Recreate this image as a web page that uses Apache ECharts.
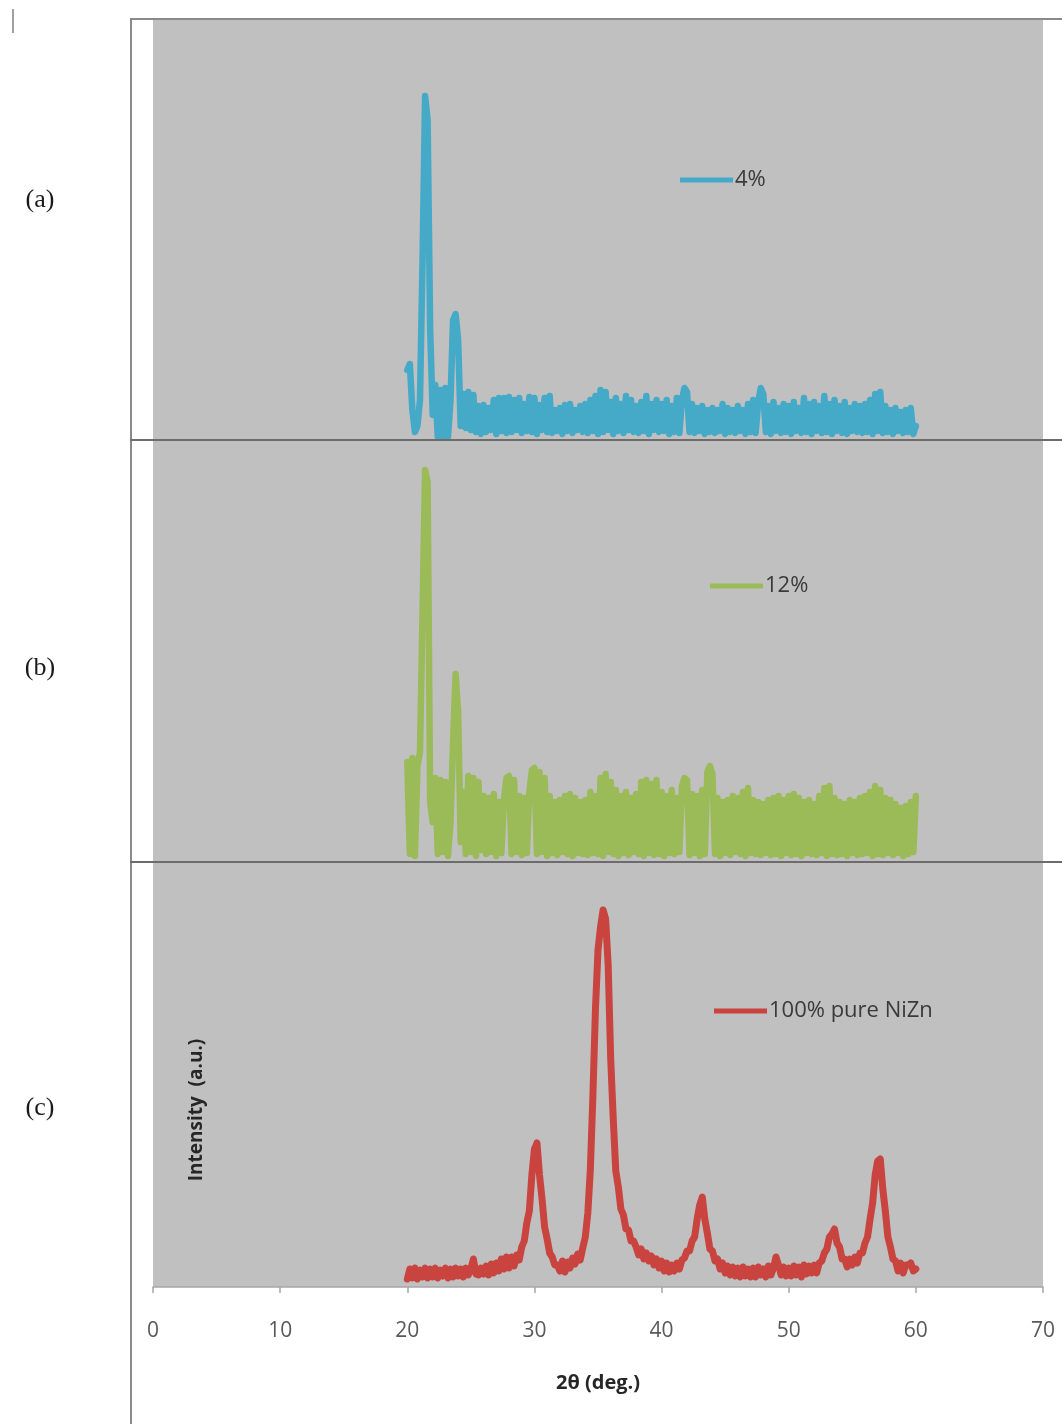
<!DOCTYPE html>
<html>
<head>
<meta charset="utf-8">
<title>XRD patterns</title>
<script src="https://cdn.jsdelivr.net/npm/echarts@6/dist/echarts.min.js"></script>
<style>
  html, body { margin: 0; padding: 0; background: #ffffff; }
  #chart { width: 1062px; height: 1424px; }
</style>
</head>
<body>
<div id="chart"></div>
<script>
// Scan: 2θ from 20° to 60° in 0.2° steps
const scanStart = 20;
const scanStep = 0.2;
const axisMin = 0, axisMax = 70, tickStep = 10;

const seriesNames = ['4%', '12%', '100% pure NiZn'];
const panelLabels = ['(a)', '(b)', '(c)'];
const xTitle = '2θ (deg.)';
const yTitle = 'Intensity  (a.u.)';

// (a) 4% — intensity, a.u.
const int4 = [
  70, 76, 30, 8, 14, 40, 180, 344, 320, 110,      // 20
  25, 55, 3, 50, 4, 52, 3, 40, 120, 126,          // 22
  100, 14, 46, 12, 48, 10, 45, 8, 34, 6,          // 24
  35, 8, 32, 10, 40, 6, 42, 9, 42, 7,             // 26
  43, 8, 40, 10, 42, 7, 36, 9, 43, 8,             // 28
  42, 6, 35, 10, 42, 8, 44, 7, 30, 9,             // 30
  32, 6, 35, 9, 36, 7, 30, 10, 34, 8,             // 32
  36, 7, 40, 9, 44, 6, 50, 8, 48, 10,             // 34
  38, 6, 42, 9, 36, 7, 44, 10, 40, 8,             // 36
  34, 7, 38, 9, 44, 6, 36, 10, 40, 8,             // 38
  36, 9, 40, 6, 34, 8, 42, 7, 40, 52,             // 40
  48, 8, 36, 7, 32, 9, 34, 6, 30, 8,              // 42
  32, 7, 30, 9, 36, 6, 32, 8, 30, 7,              // 44
  34, 9, 30, 6, 36, 8, 40, 7, 38, 52,             // 46
  46, 8, 34, 6, 38, 9, 32, 7, 36, 8,              // 48
  34, 6, 38, 9, 32, 7, 42, 8, 36, 6,              // 50
  38, 9, 34, 7, 44, 8, 36, 6, 40, 9,              // 52
  34, 7, 38, 6, 32, 9, 36, 8, 34, 7,              // 54
  36, 8, 40, 6, 46, 9, 48, 7, 34, 8,              // 56
  30, 6, 32, 9, 28, 7, 30, 8, 32, 6,              // 58
  14                                              // 60
];

// (b) 12% — intensity, a.u.
const int12 = [
  100, 8, 104, 6, 96, 110, 250, 392, 380, 60,     // 20
  40, 84, 8, 82, 10, 80, 6, 40, 120, 188,         // 22
  150, 20, 70, 8, 86, 10, 84, 6, 80, 12,          // 24
  66, 8, 64, 10, 68, 6, 60, 9, 62, 84,            // 26
  86, 8, 82, 10, 66, 7, 64, 9, 70, 92,            // 28
  94, 8, 90, 10, 84, 6, 66, 9, 60, 7,             // 30
  62, 10, 66, 8, 68, 6, 64, 9, 60, 8,             // 32
  62, 7, 70, 9, 66, 8, 84, 6, 88, 10,             // 34
  80, 8, 72, 6, 66, 9, 70, 7, 64, 10,             // 36
  68, 8, 80, 6, 82, 9, 78, 7, 82, 8,              // 38
  70, 6, 66, 9, 72, 8, 64, 10, 76, 84,            // 40
  82, 7, 68, 9, 66, 6, 72, 8, 90, 96,             // 42
  88, 8, 64, 6, 60, 9, 62, 7, 66, 10,             // 44
  64, 8, 70, 6, 74, 9, 62, 8, 60, 7,              // 46
  58, 9, 62, 7, 64, 8, 66, 6, 62, 9,              // 48
  66, 7, 68, 8, 64, 6, 60, 9, 62, 8,              // 50
  58, 7, 66, 9, 74, 6, 76, 8, 64, 7,              // 52
  60, 8, 58, 6, 62, 9, 60, 7, 64, 8,              // 54
  66, 9, 70, 6, 76, 8, 72, 7, 64, 9,              // 56
  62, 7, 58, 9, 54, 6, 56, 8, 60, 10,             // 58
  66                                              // 60
];

// (c) 100% pure NiZn — intensity, a.u.
const intPure = [
  8, 18, 9, 19, 8, 17, 10, 19, 9, 18,             // 20
  10, 19, 9, 17, 11, 19, 9, 18, 10, 19,           // 22
  11, 18, 10, 19, 12, 18, 28, 13, 12, 19,         // 24
  13, 21, 12, 23, 14, 24, 16, 28, 18, 30,         // 26
  19, 30, 21, 32, 27, 40, 46, 64, 76, 112,        // 28
  138, 144, 112, 88, 60, 48, 34, 30, 22, 22,      // 30
  16, 26, 15, 25, 19, 29, 23, 33, 27, 39,         // 32
  50, 74, 118, 192, 278, 337, 360, 377, 368, 322, // 34
  228, 168, 116, 100, 78, 72, 58, 57, 46, 46,     // 36
  40, 32, 38, 28, 34, 26, 31, 22, 28, 19,         // 38
  26, 16, 24, 15, 22, 16, 24, 18, 27, 29,         // 40
  36, 36, 46, 50, 68, 82, 90, 68, 54, 38,         // 42
  36, 26, 28, 18, 24, 14, 21, 12, 20, 11,         // 44
  19, 10, 20, 11, 18, 10, 19, 10, 20, 12,         // 46
  18, 10, 21, 12, 19, 30, 22, 12, 20, 11,         // 48
  19, 11, 21, 12, 20, 10, 22, 13, 21, 14,         // 50
  22, 14, 24, 26, 34, 38, 50, 53, 58, 44,         // 52
  40, 28, 28, 20, 28, 22, 30, 24, 34, 34,         // 54
  44, 50, 68, 84, 112, 126, 128, 98, 76, 50,      // 56
  40, 28, 26, 16, 24, 14, 22, 22, 24, 16,         // 58
  18                                              // 60
];

const lineColors = ['#45a9c8', '#9bbb59', '#c9433f'];
const lineWidths = [6.5, 6.5, 7];
const panelMax = [420, 422, 425];

function toPairs(values) {
  return values.map((v, i) => [+(scanStart + i * scanStep).toFixed(1), v]);
}

const FONT = "'Open Sans', 'Noto Sans', sans-serif";
const chart = echarts.init(document.getElementById('chart'), null, { renderer: 'canvas' });

const grids = [
  { left: 153, right: 19, top: 20, height: 420 },
  { left: 153, right: 19, top: 440, height: 422 },
  { left: 153, right: 19, top: 862, height: 425 }
].map(g => Object.assign(g, { show: true, backgroundColor: '#c0c0c0', borderWidth: 0 }));

const xAxes = [0, 1, 2].map(i => ({
  type: 'value',
  gridIndex: i,
  min: axisMin, max: axisMax, interval: tickStep,
  show: i === 2,
  splitLine: { show: false },
  axisLine: { show: true, lineStyle: { color: '#a6a6a6', width: 1.5 } },
  axisTick: { show: true, length: 6, lineStyle: { color: '#a6a6a6', width: 1.5 } },
  axisLabel: { show: true, color: '#595959', fontSize: 21, fontFamily: FONT, margin: 34 },
  name: i === 2 ? xTitle : '',
  nameLocation: 'middle',
  nameGap: 86,
  nameTextStyle: { color: '#262626', fontSize: 20, fontWeight: 'bold', fontFamily: FONT }
}));

const yAxes = [0, 1, 2].map(i => ({
  type: 'value', gridIndex: i, min: 0, max: panelMax[i], show: false, splitLine: { show: false }
}));

const data = [int4, int12, intPure];
const series = data.map((vals, i) => ({
  name: seriesNames[i],
  type: 'line',
  xAxisIndex: i,
  yAxisIndex: i,
  data: toPairs(vals),
  showSymbol: false,
  symbol: 'none',
  smooth: false,
  lineStyle: { color: lineColors[i], width: lineWidths[i], join: 'round', cap: 'round' },
  itemStyle: { color: lineColors[i] },
  z: 3
}));

const legendPos = [
  { left: 680, top: 169 },
  { left: 710, top: 575 },
  { left: 714, top: 1000 }
];
const legends = legendPos.map((p, i) => ({
  data: [seriesNames[i]],
  left: p.left, top: p.top,
  padding: 0,
  icon: 'rect',
  itemWidth: 53, itemHeight: 5,
  textStyle: { color: '#3a3a3a', fontSize: 22, fontFamily: FONT, padding: [0, 0, 0, -3] },
  selectedMode: false
}));

const frameColor = '#8a8a8a';
const graphic = [
  { type: 'line', z: 50, shape: { x1: 130, y1: 19, x2: 1062, y2: 19 }, style: { stroke: frameColor, lineWidth: 2 } },
  { type: 'line', z: 50, shape: { x1: 131, y1: 18, x2: 131, y2: 1424 }, style: { stroke: frameColor, lineWidth: 2 } },
  { type: 'line', z: 50, shape: { x1: 130, y1: 440, x2: 1062, y2: 440 }, style: { stroke: '#6c6c6c', lineWidth: 2 } },
  { type: 'line', z: 50, shape: { x1: 130, y1: 862, x2: 1062, y2: 862 }, style: { stroke: '#6c6c6c', lineWidth: 2 } },
  { type: 'line', z: 50, shape: { x1: 13, y1: 9, x2: 13, y2: 33 }, style: { stroke: '#a0a0a0', lineWidth: 2 } },
  {
    type: 'text', z: 50, x: 197, y: 1110, rotation: Math.PI / 2,
    style: { text: yTitle, fill: '#262626', font: 'bold 19px ' + FONT, align: 'center', verticalAlign: 'middle' }
  }
].concat(panelLabels.map((t, i) => ({
  type: 'text', z: 50, x: 40, y: [200, 668, 1108][i],
  style: { text: t, fill: '#1a1a1a', font: '26px "Liberation Serif", "DejaVu Serif", serif', align: 'center', verticalAlign: 'middle' }
})));

chart.setOption({
  animation: false,
  backgroundColor: '#ffffff',
  grid: grids,
  xAxis: xAxes,
  yAxis: yAxes,
  legend: legends,
  series: series,
  graphic: graphic
});
</script>
</body>
</html>
